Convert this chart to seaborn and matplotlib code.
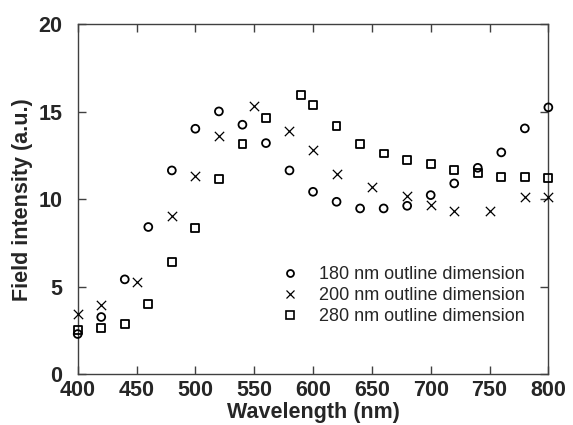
import numpy as np
import pandas as pd
import matplotlib
matplotlib.use("Agg")
import matplotlib.pyplot as plt
import seaborn as sns
from matplotlib.lines import Line2D

# ---- data ----
wl_180 = [400, 420, 440, 460, 480, 500, 520, 540, 560, 580, 600, 620, 640, 660, 680, 700, 720, 740, 760, 780, 800]
fi_180 = [2.3, 3.27, 5.42, 8.41, 11.64, 14.02, 15.01, 14.25, 13.2, 11.64, 10.42, 9.85, 9.47, 9.47, 9.62, 10.23, 10.9, 11.79, 12.67, 14.04, 15.24]

wl_200 = [400, 420, 450, 480, 500, 520, 550, 580, 600, 620, 650, 680, 700, 720, 750, 780, 800]
fi_200 = [3.44, 3.94, 5.27, 9.04, 11.34, 13.62, 15.31, 13.9, 12.8, 11.45, 10.67, 10.19, 9.66, 9.34, 9.34, 10.1, 10.14]

wl_280 = [400, 420, 440, 460, 480, 500, 520, 540, 560, 590, 600, 620, 640, 660, 680, 700, 720, 740, 760, 780, 800]
fi_280 = [2.53, 2.66, 2.89, 4.0, 6.39, 8.33, 11.13, 13.14, 14.63, 15.96, 15.39, 14.19, 13.16, 12.61, 12.23, 12.02, 11.66, 11.47, 11.28, 11.28, 11.19]

labels = ["180 nm outline dimension", "200 nm outline dimension", "280 nm outline dimension"]
x_ticks = [400, 450, 500, 550, 600, 650, 700, 750, 800]
y_ticks = [0, 5, 10, 15, 20]

df = pd.concat([
    pd.DataFrame({"wl": wl_180, "fi": fi_180, "series": labels[0]}),
    pd.DataFrame({"wl": wl_200, "fi": fi_200, "series": labels[1]}),
    pd.DataFrame({"wl": wl_280, "fi": fi_280, "series": labels[2]}),
])

sns.set_style("ticks")
plt.rcParams["font.family"] = ["Liberation Sans", "DejaVu Sans"]

fig = plt.figure(figsize=(5.73, 4.25), dpi=100)
ax = fig.add_axes([0.1356, 0.1193, 0.957 - 0.1356, 0.9435 - 0.1193])

markers = {labels[0]: "o", labels[1]: "x", labels[2]: "s"}
for lab in labels:
    sub = df[df["series"] == lab]
    m = markers[lab]
    if m == "x":
        sns.scatterplot(data=sub, x="wl", y="fi", marker="x", color="black",
                        s=45, linewidth=0.9, ax=ax, clip_on=False, zorder=3)
    else:
        sns.scatterplot(data=sub, x="wl", y="fi", marker=m, facecolors="none",
                        edgecolor="black", s=32, linewidth=1.3, ax=ax,
                        clip_on=False, zorder=3)

ax.set_xlim(400, 800)
ax.set_ylim(0, 20)
ax.set_xticks(x_ticks)
ax.set_yticks(y_ticks)
ax.set_xticklabels([str(v) for v in x_ticks], fontsize=15.5, fontweight="bold")
ax.set_yticklabels([str(v) for v in y_ticks], fontsize=15.5, fontweight="bold")
ax.tick_params(axis="both", direction="in", length=6, width=1, color="#404040",
               top=True, right=True)
ax.tick_params(axis="x", pad=4)
ax.tick_params(axis="y", pad=11)
for sp in ax.spines.values():
    sp.set_visible(True)
    sp.set_color("#404040")
    sp.set_linewidth(1)

ax.set_xlabel("Wavelength (nm)", fontsize=15.5, fontweight="bold", labelpad=1)
ax.set_ylabel("Field intensity (a.u.)", fontsize=15.5, fontweight="bold", labelpad=4)

handles = [
    Line2D([], [], marker="o", linestyle="none", markerfacecolor="none", markeredgecolor="black", markersize=5, markeredgewidth=1.3),
    Line2D([], [], marker="x", linestyle="none", color="black", markersize=6, markeredgewidth=0.9),
    Line2D([], [], marker="s", linestyle="none", markerfacecolor="none", markeredgecolor="black", markersize=5.2, markeredgewidth=1.2),
]
ax.legend(handles, labels, loc="upper left", bbox_to_anchor=(0.417, 0.335),
          frameon=False, fontsize=13, handlelength=0.8, handletextpad=1.18,
          labelspacing=0.22, borderpad=0)

fig.savefig("out.png", dpi=100)
